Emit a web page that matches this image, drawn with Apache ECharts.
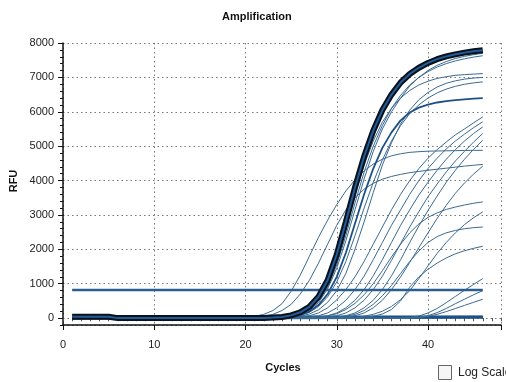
<!DOCTYPE html>
<html><head><meta charset="utf-8">
<script src="https://cdn.jsdelivr.net/npm/echarts@6/dist/echarts.min.js"></script>
<style>html,body{margin:0;padding:0;background:#fff}#c{width:506px;height:382px}</style>
</head><body><div id="c"></div>
<script>
// ---- data ----
const cycleMin = 0, cycleMax = 48;
const rfuMin = -200, rfuMax = 8000;
const thresholdRFU = 820;
const firstCycle = 1, lastCycle = 46;
const titleText = 'Amplification';
const xTitle = 'Cycles';
const yTitle = 'RFU';

// thick main bundle, cycles 1..46
const mainCurve = [40,40,40,40,40,0,0,0,0,0,0,0,0,0,0,0,0,0,0,0,0,5,15,35,80,170,330,620,1100,1850,2800,3800,4700,5450,6050,6500,6850,7100,7280,7420,7530,7610,7670,7720,7760,7790];

// thin curves: start cycle + values for consecutive cycles up to 46
const curveA_start = 18; const curveA = [0,10,25,55,110,220,420,780,1250,1800,2350,2850,3300,3700,4020,4280,4480,4620,4720,4780,4820,4840,4855,4860,4865,4870,4875,4878,4880];
const curveB_start = 19; const curveB = [0,10,25,55,110,220,400,700,1100,1600,2150,2700,3150,3500,3750,3920,4040,4120,4180,4230,4265,4300,4330,4360,4390,4420,4445,4470];
const curveC_start = 22; const curveC = [0,10,25,60,130,260,500,900,1550,2400,3350,4250,5000,5600,6100,6480,6780,7000,7170,7300,7400,7480,7540,7590,7630];
const curveD_start = 22; const curveD = [0,10,30,70,150,300,580,1050,1750,2650,3600,4450,5150,5700,6100,6400,6620,6780,6890,6970,7020,7060,7080,7095,7110];
const curveE_start = 22; const curveE = [0,5,15,35,80,170,340,620,1050,1650,2400,3200,3950,4600,5150,5600,5950,6200,6400,6550,6660,6740,6800,6840,6870];
const curveF_start = 23; const curveF = [0,15,40,90,190,380,700,1200,1900,2750,3600,4350,4950,5400,5750,5980,6120,6210,6270,6310,6340,6360,6380,6400];
const curveG_start = 23; const curveG = [0,10,25,55,120,240,460,800,1300,2000,2800,3650,4450,5100,5650,6050,6350,6560,6720,6830,6900,6950,6980,7000];
const curveV_start = 22; const curveV = [0,5,20,50,110,230,450,850,1450,2250,3150,4050,4850,5500,6000,6400,6750,7000,7200,7350,7460,7550,7610,7660,7700];
const curveH_start = 24; const curveH = [0,10,30,70,150,300,530,830,1200,1650,2150,2650,3150,3600,4000,4350,4650,4900,5120,5330,5500,5680,5850];
const curveI_start = 25; const curveI = [0,10,30,70,150,300,520,830,1220,1700,2200,2700,3150,3600,4000,4350,4650,4920,5150,5350,5540,5710];
const curveJ_start = 26; const curveJ = [0,10,30,70,150,300,520,830,1230,1700,2200,2700,3150,3580,3950,4300,4620,4900,5150,5370,5560];
const curveK_start = 27; const curveK = [0,10,30,70,150,300,520,830,1220,1680,2170,2650,3100,3530,3900,4250,4570,4850,5120,5370];
const curveL_start = 28; const curveL = [0,10,30,70,150,300,520,830,1230,1700,2200,2680,3130,3550,3950,4300,4620,4910,5170];
const curveM_start = 29; const curveM = [0,10,30,70,150,300,520,830,1200,1620,2050,2480,2900,3280,3630,3930,4190,4420];
const curveN_start = 26; const curveN = [0,10,25,60,130,250,430,680,1000,1380,1780,2150,2480,2740,2930,3060,3160,3230,3290,3340,3380];
const curveO_start = 30; const curveO = [0,10,25,55,110,200,340,540,800,1150,1520,1880,2200,2480,2720,2920,3090];
const curveP_start = 28; const curveP = [0,10,25,55,110,220,400,650,950,1300,1650,1950,2200,2370,2480,2550,2600,2630,2650];
const curveQ_start = 31; const curveQ = [0,10,25,55,120,250,500,900,1200,1420,1600,1750,1870,1960,2030,2090];
const curveR_start = 37; const curveR = [0,20,60,150,280,450,630,810,980,1150];
const curveS_start = 38; const curveS = [0,20,70,160,280,420,550,680,800];
const curveT_start = 38; const curveT = [0,15,50,110,190,280,370,460,550];

// non-amplifying wells (flat), value at cycle 1 and 46
const flatWells = [[20,30],[-20,10],[50,50],[0,40]];

// ---- build ----
function toPairs(start, vals){
  const out = [];
  if (start > firstCycle) out.push([firstCycle, vals[0]]);
  vals.forEach((v,i) => out.push([start + i, v]));
  return out;
}
const thinList = [
  [curveA_start,curveA],[curveB_start,curveB],[curveC_start,curveC],[curveD_start,curveD],
  [curveE_start,curveE],[curveG_start,curveG],[curveV_start,curveV],
  [curveH_start,curveH],[curveI_start,curveI],[curveJ_start,curveJ],[curveK_start,curveK],
  [curveL_start,curveL],[curveM_start,curveM],[curveN_start,curveN],[curveO_start,curveO],
  [curveP_start,curveP],[curveQ_start,curveQ],[curveR_start,curveR],[curveS_start,curveS],[curveT_start,curveT]
];
const series = [];
flatWells.forEach(f => series.push({type:'line', data:[[firstCycle,f[0]],[lastCycle,f[1]]], showSymbol:false, silent:true,
  lineStyle:{color:'#1d5088', width:2}, z:2}));
thinList.forEach(c => series.push({type:'line', data:toPairs(c[0], c[1]), showSymbol:false, silent:true,
  lineStyle:{color:'#3a6a92', width:1}, z:3}));
series.push({type:'line', data:toPairs(curveF_start, curveF), showSymbol:false, silent:true,
  lineStyle:{color:'#1e4f86', width:1.8}, z:4});
series.push({type:'line', data:[[firstCycle,thresholdRFU],[lastCycle,thresholdRFU]], showSymbol:false, silent:true,
  lineStyle:{color:'#2b5e90', width:2.5}, z:5});
const mainPairs = mainCurve.map((v,i) => [firstCycle + i, v]);
series.push({type:'line', data:mainPairs, showSymbol:false, silent:true, lineStyle:{color:'#08111e', width:6}, z:6});
series.push({type:'line', data:mainPairs, showSymbol:false, silent:true, lineStyle:{color:'#245c96', width:2}, z:7});

const font = 'Liberation Sans, Arial, sans-serif';
const chart = echarts.init(document.getElementById('c'), null, {renderer:'canvas'});
const hide = {show:false};
chart.setOption({
  animation:false,
  backgroundColor:'#fff',
  grid:{left:63, right:5, top:43, bottom:57, containLabel:false},
  xAxis:[
    {type:'value', min:cycleMin, max:cycleMax, interval:10, position:'bottom',
      axisLine:{show:true, onZero:false, lineStyle:{color:'#111', width:1.5}},
      axisTick:{show:true, length:5, lineStyle:{color:'#111'}},
      axisLabel:{margin:14, fontSize:11, fontFamily:font, color:'#222',
        formatter:v => (v % 10 === 0 && v <= 40) ? String(v) : ''},
      splitLine:{show:true, lineStyle:{color:'#777', width:1, type:[1.5,3]}}},
    {type:'value', min:cycleMin, max:cycleMax, interval:1, position:'bottom',
      axisLine:hide, axisLabel:hide, splitLine:hide,
      axisTick:{show:true, length:3, lineStyle:{color:'#111'}}},
    {type:'value', min:cycleMin, max:cycleMax, interval:1, position:'top',
      axisLine:hide, axisLabel:hide, splitLine:hide,
      axisTick:{show:true, inside:true, length:3, lineStyle:{color:'#555'}}}
  ],
  yAxis:[
    {type:'value', min:rfuMin, max:rfuMax, splitNumber:8, position:'left',
      axisLine:{show:true, onZero:false, lineStyle:{color:'#111', width:1.5}},
      axisTick:{show:true, length:5, lineStyle:{color:'#111'}},
      axisLabel:{margin:9, fontSize:11, fontFamily:font, color:'#222', showMinLabel:false,
        formatter:v => v < 0 ? '' : String(Math.abs(v))},
      splitLine:{show:true, lineStyle:{color:'#777', width:1, type:[1.5,3]}}},
    {type:'value', min:rfuMin, max:rfuMax, interval:200, position:'left',
      axisLine:hide, axisLabel:hide, splitLine:hide,
      axisTick:{show:true, length:3, lineStyle:{color:'#111'}}}
  ],
  series:series,
  graphic:[
    {type:'text', left:222, top:11, style:{text:titleText, font:'bold 11px '+font, fill:'#111'}},
    {type:'text', x:14, y:181, rotation:Math.PI/2, style:{text:yTitle, font:'bold 11px '+font, fill:'#111', align:'center', verticalAlign:'middle'}},
    {type:'text', x:283, y:368, style:{text:xTitle, font:'bold 11px '+font, fill:'#111', align:'center', verticalAlign:'middle'}},
    {type:'rect', shape:{x:438.5, y:365.5, width:13, height:14}, style:{fill:'#f6f6f6', stroke:'#666', lineWidth:1}},
    {type:'text', x:458, y:373, style:{text:'Log Scale', font:'12px '+font, fill:'#222', verticalAlign:'middle'}}
  ]
});
</script></body></html>
